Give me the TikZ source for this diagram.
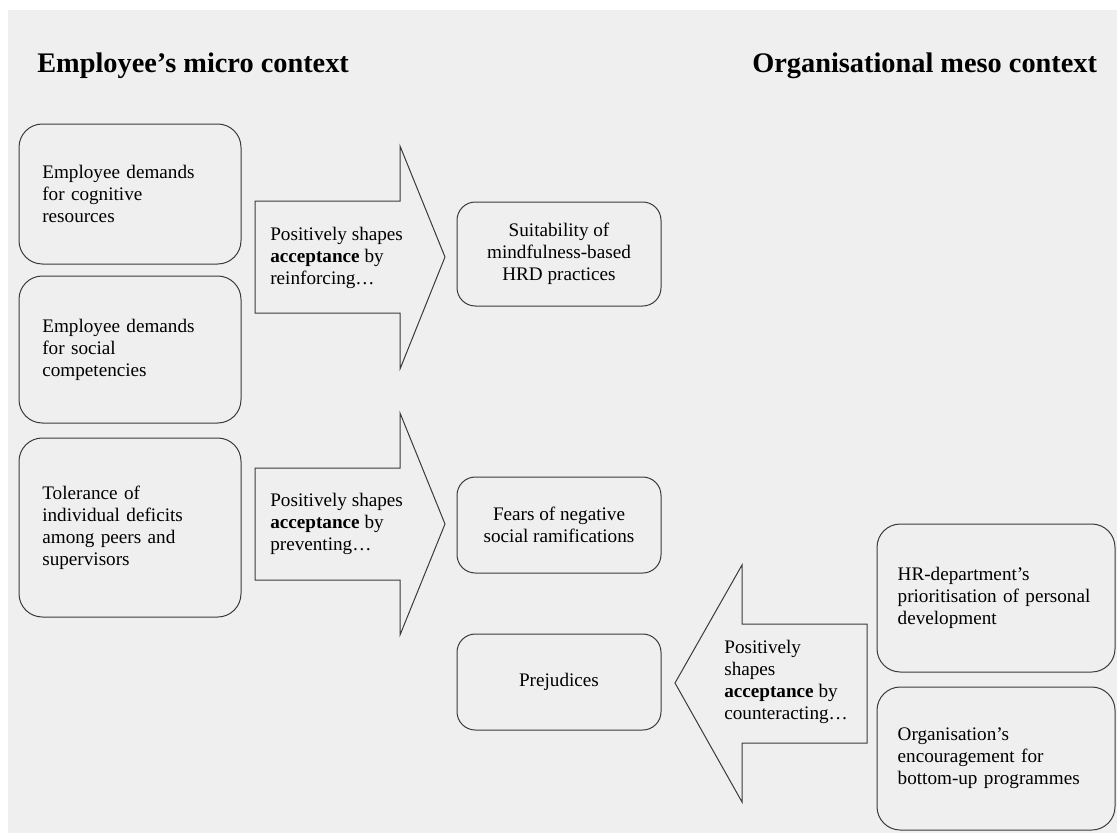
\documentclass[tikz,border=0pt]{standalone}
\usepackage{fontspec}
\setmainfont{Liberation Serif}
\definecolor{panel}{HTML}{EFEFEF}
\definecolor{edge}{HTML}{3A3A3A}

\begin{document}
\begin{tikzpicture}[x=0.6pt, y=-0.6pt,
  every node/.style={font=\fontsize{11.5}{13.2}\selectfont},
  headline/.style={font=\fontsize{17}{20}\selectfont\bfseries, anchor=base west, inner sep=0pt},
  ctxbox/.style={draw=edge, line width=0.6pt, rounded corners=14pt, align=left, inner xsep=14pt, inner ysep=0pt},
  effbox/.style={draw=edge, line width=0.6pt, rounded corners=11pt, align=center, minimum width=122.4pt, inner sep=0pt},
  blockarrow/.style={draw=edge, line width=0.6pt, line join=miter},
  arrowtext/.style={anchor=west, align=left, inner sep=0pt}]
  \useasboundingbox (0,0) rectangle (1117,833);
  \fill[panel] (8,10) rectangle (1117,833);

  \node[headline] (micro) at (37,72) {Employee’s micro context};
  \node[headline] (meso) at (752,72) {Organisational meso context};

  % micro context
  \node[ctxbox, text width=105.2pt, minimum height=84pt] (cogn) at (130,194)
    {Employee demands\\for cognitive\\resources};
  \node[ctxbox, text width=105.2pt, minimum height=88.2pt] (social) at (130,349.5)
    {Employee demands\\for social\\competencies};
  \node[ctxbox, text width=105.2pt, minimum height=107.4pt] (toler) at (130,527.5)
    {Tolerance of\\individual deficits\\among peers and\\supervisors};

  % effects in the middle
  \node[effbox, minimum height=62.4pt] (suit) at (559,254)
    {Suitability of\\mindfulness-based\\HRD practices};
  \node[effbox, minimum height=57.6pt] (fears) at (559,525)
    {Fears of negative\\social ramifications};
  \node[effbox, minimum height=57.6pt] (prej) at (559,682) {Prejudices};

  % meso context
  \node[ctxbox, inner xsep=12.4pt, text width=118pt, minimum height=88.8pt] (hrprio) at (996,598)
    {HR-department’s\\prioritisation of personal\\development};
  \node[ctxbox, inner xsep=12.4pt, text width=118pt, minimum height=85.8pt] (bottomup) at (996,758.5)
    {Organisation’s\\encouragement for\\bottom-up programmes};

  % block arrows
  \coordinate (R1) at (255,201);
  \coordinate (T1) at (445,257);
  \draw[blockarrow] (R1) -- (400,201) -- (400,146) -- (T1) -- (400,369) -- (400,313) -- (255,313) -- cycle;
  \node[arrowtext] (reinf) at (270,258)
    {Positively shapes\\\textbf{acceptance} by\\reinforcing…};

  \coordinate (R2) at (255,468);
  \coordinate (T2) at (445,524);
  \draw[blockarrow] (R2) -- (400,468) -- (400,413) -- (T2) -- (400,635) -- (400,580) -- (255,580) -- cycle;
  \node[arrowtext] (prevent) at (270,524)
    {Positively shapes\\\textbf{acceptance} by\\preventing…};

  \coordinate (R3) at (867,624);
  \coordinate (T3) at (675,683);
  \draw[blockarrow] (R3) -- (742,624) -- (742,565) -- (T3) -- (742,802) -- (742,743) -- (867,743) -- cycle;
  \node[arrowtext] (counter) at (724,682)
    {Positively\\shapes\\\textbf{acceptance} by\\counteracting…};
\end{tikzpicture}
\end{document}
